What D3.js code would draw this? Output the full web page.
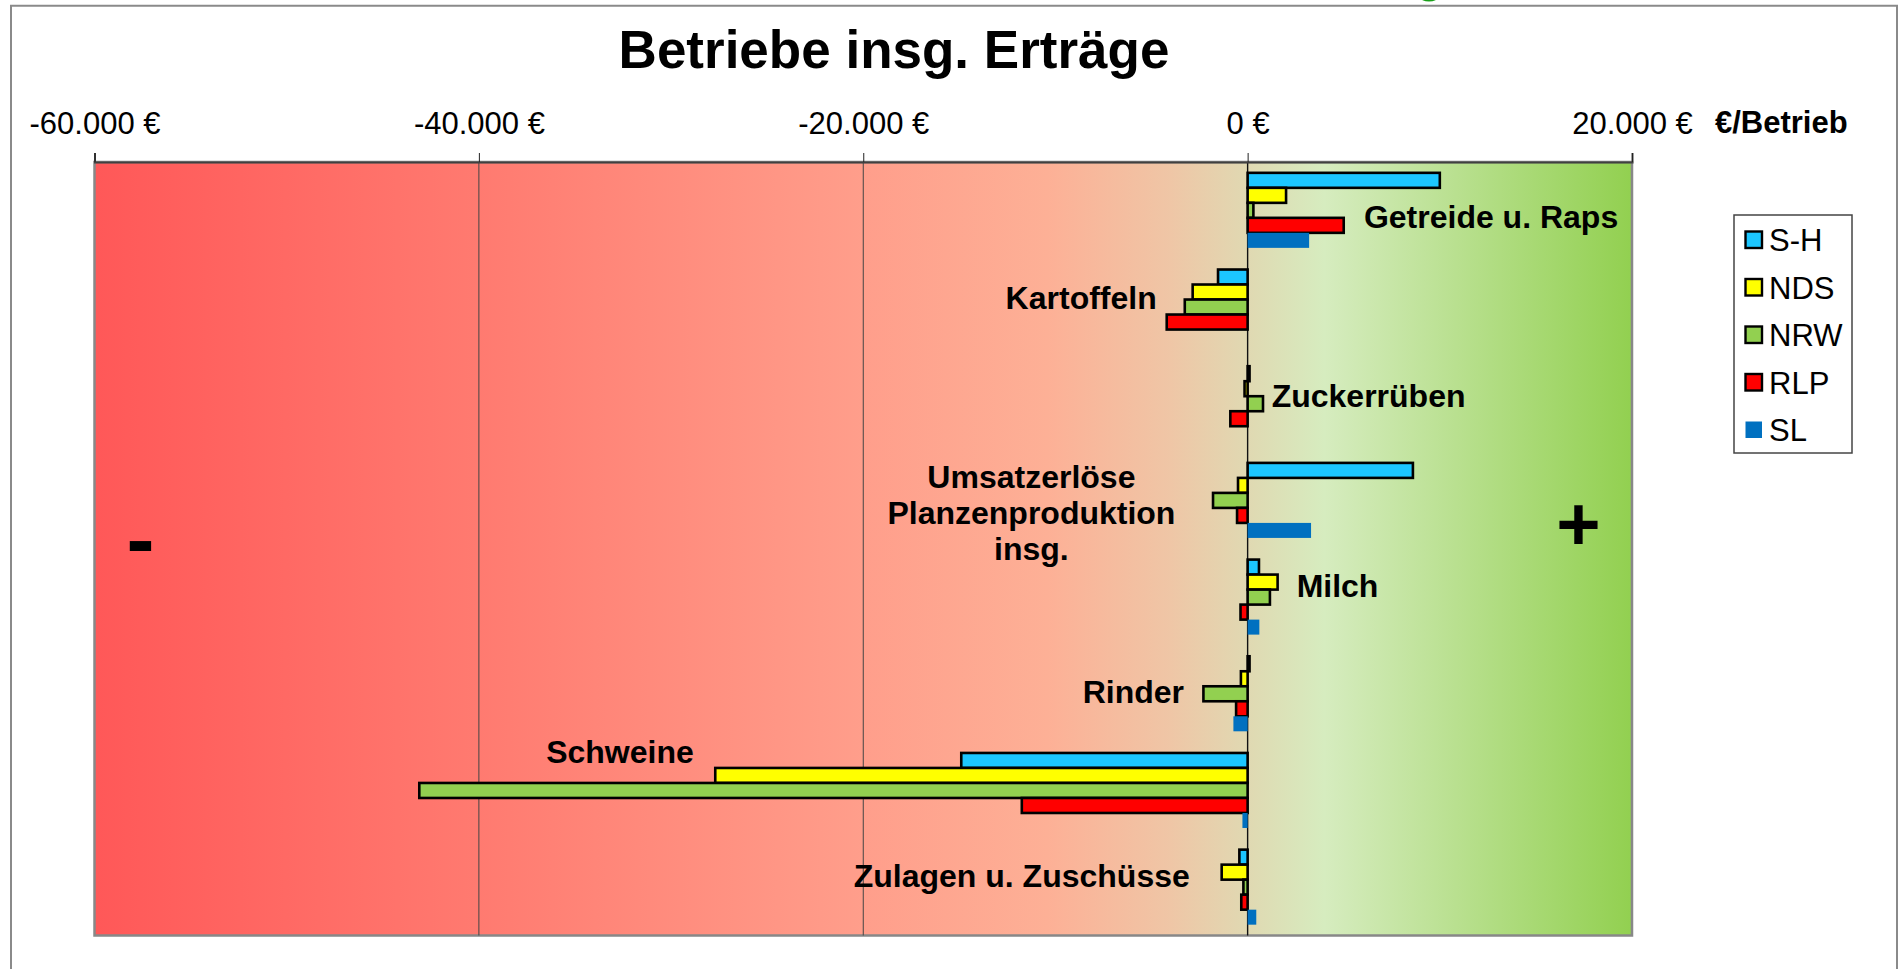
<!DOCTYPE html>
<html>
<head>
<meta charset="utf-8">
<script src="https://cdn.jsdelivr.net/npm/d3@7"></script>
<style>
    body { margin: 0; background: #fff; }
    svg { display: block; font-family: "Liberation Sans", Arial, sans-serif; }
</style>
</head>
<body>
<svg id="chart" width="1901" height="969"></svg>
<script>
// Data
const categories = ["Getreide u. Raps", "Kartoffeln", "Zuckerrüben", "Umsatzerlöse Planzenproduktion insg.",
    "Milch", "Rinder", "Schweine", "Zulagen u. Zuschüsse"];
const categoryLines = [["Getreide u. Raps"], ["Kartoffeln"], ["Zuckerrüben"],
    ["Umsatzerlöse", "Planzenproduktion", "insg."], ["Milch"], ["Rinder"], ["Schweine"], ["Zulagen u. Zuschüsse"]];
const regions = ["S-H", "NDS", "NRW", "RLP", "SL"];
const valuesSH  = [10000, -1540,  100,  8600,  590,  100, -14900,  -430];
const valuesNDS = [ 2000, -2860, -160,  -500, 1560, -350, -27700, -1350];
const valuesNRW = [  300, -3270,  800, -1800, 1160, -2300, -43100, -220];
const valuesRLP = [ 5000, -4210, -900,  -550, -370, -600, -11750,  -330];
const valuesSL  = [ 3200,     0,    0,  3300,  610, -740,   -270,   450];
const xTicks = [-60000, -40000, -20000, 0, 20000];
const gridValues = [-40000, -20000, 0];

// Label placement (anchor in €, alignment, baseline as share of the category step)
const labelAnchor = [6050, -4730, 1250, -11250, 2550, -3310, -36500, -3010];
const labelAlign = ["start", "end", "start", "middle", "start", "end", "start", "end"];
const labelDy = [0.686, 0.52, 0.537, 0.374, 0.495, 0.598, 0.212, 0.494];

const seriesValues = [valuesSH, valuesNDS, valuesNRW, valuesRLP, valuesSL];
const colors = ["#1cc6ff", "#ffff00", "#92d050", "#ff0000", "#0070c0"];
const stroked = [true, true, true, true, false];

const plot = {left: 94.5, right: 1632, top: 162, bottom: 935.5};

const svg = d3.select("#chart");

// Outer frame
svg.append("path")
    .attr("d", "M11,1000 V5.7 H1897 V1000")
    .attr("fill", "none")
    .attr("stroke", "#8a8a8a")
    .attr("stroke-width", 2);
svg.append("ellipse")
    .attr("cx", 1429).attr("cy", -3)
    .attr("rx", 9).attr("ry", 4.5)
    .attr("fill", "#19a019");

// Title
svg.append("text")
    .attr("x", 894).attr("y", 68)
    .attr("text-anchor", "middle")
    .attr("font-size", 53).attr("font-weight", "bold")
    .text("Betriebe insg. Erträge");

// Scales
const x = d3.scaleLinear().domain([-60000, 20000]).range([plot.left, plot.right]);
const y = d3.scaleBand().domain(categories).range([plot.top, plot.bottom])
    .paddingInner(0.224).paddingOuter(0.112);
const ySub = d3.scaleBand().domain(regions).range([0, y.bandwidth()]);

// Background gradient
const defs = svg.append("defs");
const grad = defs.append("linearGradient")
    .attr("id", "bg-gradient")
    .attr("x1", 0).attr("x2", 1).attr("y1", 0).attr("y2", 0);
[[0, "#ff5858"], [0.27, "#ff7d72"], [0.5, "#ff9e8b"], [0.62, "#fdb096"],
 [0.7, "#efc6a6"], [0.75, "#e0d9b2"], [0.8, "#d6ecbf"], [1, "#92d050"]]
    .forEach(s => grad.append("stop").attr("offset", s[0]).attr("stop-color", s[1]));

svg.append("rect")
    .attr("x", plot.left).attr("y", plot.top)
    .attr("width", plot.right - plot.left).attr("height", plot.bottom - plot.top)
    .attr("fill", "url(#bg-gradient)")
    .attr("stroke", "#888")
    .attr("stroke-width", 2.5);

// Gridlines
svg.append("g")
    .selectAll("line")
    .data(gridValues)
    .join("line")
    .attr("x1", d => x(d)).attr("x2", d => x(d))
    .attr("y1", plot.top).attr("y2", plot.bottom)
    .attr("stroke", d => d === 0 ? "#111" : "#444")
    .attr("stroke-width", d => d === 0 ? 1.4 : 1);

// X axis on top
const locale = d3.formatLocale({decimal: ",", thousands: ".", grouping: [3], currency: ["", " €"], minus: "-"});
const fmt = locale.format("$,");
const xAxis = d3.axisTop(x).tickValues(xTicks).tickSize(9).tickPadding(19).tickFormat(fmt);
svg.append("g")
    .attr("transform", `translate(0,${plot.top})`)
    .call(xAxis)
    .call(g => g.select(".domain").attr("stroke", "#404040").attr("stroke-width", 2))
    .call(g => g.selectAll(".tick line").attr("stroke", "#222"))
    .call(g => g.selectAll(".tick text")
        .attr("font-family", "'Liberation Sans', Arial, sans-serif")
        .attr("font-size", 31).attr("fill", "#000"));

svg.append("text")
    .attr("x", 1715).attr("y", 133)
    .attr("font-size", 31).attr("font-weight", "bold")
    .text("€/Betrieb");

// Bars
const barData = categories.flatMap((c, i) => regions.map((r, j) => ({
    cat: c, region: r, idx: j, value: seriesValues[j][i]
}))).filter(d => d.value !== 0);

svg.append("g")
    .selectAll("rect")
    .data(barData)
    .join("rect")
    .attr("x", d => x(Math.min(0, d.value)))
    .attr("y", d => y(d.cat) + ySub(d.region))
    .attr("width", d => Math.abs(x(d.value) - x(0)))
    .attr("height", ySub.bandwidth())
    .attr("fill", d => colors[d.idx])
    .attr("stroke", d => stroked[d.idx] ? "#000" : "none")
    .attr("stroke-width", 2.6);

// Category labels
const labels = svg.append("g")
    .attr("font-size", 32).attr("font-weight", "bold")
    .selectAll("text")
    .data(categories)
    .join("text")
    .attr("text-anchor", (d, i) => labelAlign[i])
    .attr("y", (d, i) => y(d) - y.step() * y.paddingOuter() + y.step() * labelDy[i]);
labels.selectAll("tspan")
    .data((d, i) => categoryLines[i].map(t => ({t, i})))
    .join("tspan")
    .attr("x", d => x(labelAnchor[d.i]))
    .attr("dy", (d, k) => k === 0 ? 0 : 36)
    .text(d => d.t);

// Minus / plus markers
svg.append("text")
    .attr("x", 140.5).attr("y", 568)
    .attr("text-anchor", "middle")
    .attr("font-size", 84).attr("font-weight", "bold")
    .text("-");
svg.append("text")
    .attr("x", 1578.5).attr("y", 550)
    .attr("text-anchor", "middle")
    .attr("font-size", 76).attr("font-weight", "bold")
    .text("+");

// Legend
const legend = svg.append("g");
legend.append("rect")
    .attr("x", 1734).attr("y", 215)
    .attr("width", 118).attr("height", 238)
    .attr("fill", "#fff")
    .attr("stroke", "#444").attr("stroke-width", 1.5);
const item = legend.selectAll("g.item")
    .data(regions)
    .join("g")
    .attr("class", "item")
    .attr("transform", (d, i) => `translate(1745,${240 + i * 47.5})`);
item.append("rect")
    .attr("x", 0.5).attr("y", -8.5)
    .attr("width", 16.5).attr("height", 16.5)
    .attr("fill", (d, i) => colors[i])
    .attr("stroke", (d, i) => stroked[i] ? "#000" : "none")
    .attr("stroke-width", 2.4);
item.append("text")
    .attr("x", 24).attr("y", 11)
    .attr("font-size", 31)
    .text(d => d);
</script>
</body>
</html>
